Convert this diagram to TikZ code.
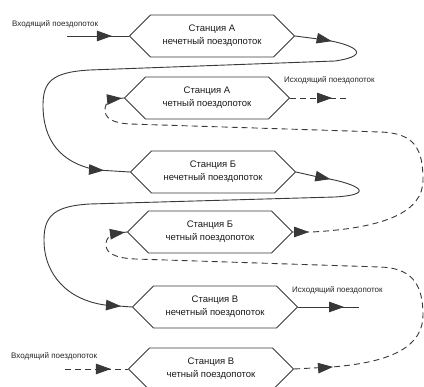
\documentclass[tikz,border=0pt]{standalone}
\usepackage{fontspec}
\setmainfont{Liberation Sans}
\usepackage{tikz}
\usetikzlibrary{arrows.meta}
\usetikzlibrary{shapes.symbols,decorations.markings}
\colorlet{flowline}{black!78}

\begin{document}
\begin{tikzpicture}[
		x=1pt,y=-1pt,
		Station/.style={draw=flowline,line width=0.8pt,signal,signal to=west and east,
			signal pointer angle=90,minimum width=165pt,minimum height=42pt,
			inner sep=0pt,align=center,text=black!90,font=\fontsize{9.5}{13}\selectfont},
		Flow/.style={draw=flowline,line width=0.9pt},
		EvenFlow/.style={draw=flowline,line width=0.9pt,dash pattern=on 6pt off 4pt},
		FlowLabel/.style={text=black!85,font=\fontsize{8}{9}\selectfont,inner sep=0pt},
		TipAt/.style={postaction={decorate,decoration={markings,
					mark=at position #1 with {\arrow{Triangle[length=15pt,width=10.5pt]}}}}}
		]
		\useasboundingbox (0,0) rectangle (424,387);
		
		%\draw[help lines,step=10] (0,0) grid (424,387);
		
		\node[Station] (A1) at (212,36) {Станция А\\нечетный поездопоток};
		\node[Station] (A2) at (207,98) {Станция А\\четный поездопоток};
		\node[Station] (B1) at (213,172) {Станция Б\\нечетный поездопоток};
		\node[Station] (B2) at (210,232) {Станция Б\\четный поездопоток};
		\node[Station] (C1) at (215,307) {Станция В\\нечетный поездопоток};
		\node[Station] (C2) at (211,369) {Станция В\\четный поездопоток};
		
		\coordinate (inA) at (67,36);
		\coordinate (outA) at (350,98);
		\coordinate (outC) at (359,307);
		\coordinate (inC) at (65,369);
		
		\node[FlowLabel,anchor=west] (inAtext) at (12,24) {Входящий поездопоток};
		\node[FlowLabel,anchor=west] (outAtext) at (284,80) {Исходящий поездопоток};
		\node[FlowLabel,anchor=west] (outCtext) at (292,290) {Исходящий поездопоток};
		\node[FlowLabel,anchor=west] (inCtext) at (11,356) {Входящий поездопоток};
		
		% odd flow
		\draw[Flow,TipAt=-17pt] (inA) -- (A1.west);
		
		\draw[Flow,TipAt=37pt,TipAt=-26pt] (A1.east) -- (318,39)
		.. controls (352,43) and (376,55) .. (335,61) -- (90,70)
		.. controls (52,72) and (43,82) .. (43,105)
		.. controls (43,140) and (60,163) .. (97,170) -- (B1.west);
		
		\draw[Flow,TipAt=35pt,TipAt=-11pt] (B1.east) -- (318,177)
		.. controls (352,182) and (382,194) .. (335,197) -- (90,204)
		.. controls (54,206) and (44,216) .. (44,240)
		.. controls (44,275) and (68,300) .. (105,305) -- (C1.west);
		
		\draw[Flow,TipAt=46pt] (C1.east) -- (outC);
		
		% even flow
		\draw[EvenFlow,TipAt=-17pt] (inC) -- (C2.west);
		
		\draw[EvenFlow,TipAt=39pt,TipAt=-2pt] (C2.east) -- (332,367)
		.. controls (395,362) and (423,345) .. (423,315)
		.. controls (423,282) and (410,268) .. (380,267) -- (135,259)
		.. controls (113,258) and (106,252) .. (106,245)
		.. controls (106,237) and (110,234) .. (B2.west);
		
		\draw[EvenFlow,TipAt=16pt,TipAt=-2pt] (B2.east) -- (312,232)
		.. controls (385,228) and (423,212) .. (423,180)
		.. controls (423,148) and (414,133) .. (380,132) -- (130,124)
		.. controls (112,123) and (105,118) .. (105,110)
		.. controls (105,102) and (110,99) .. (A2.west);
		
		\draw[EvenFlow,TipAt=42pt] (A2.east) -- (outA);
		
\end{tikzpicture}
\end{document}
